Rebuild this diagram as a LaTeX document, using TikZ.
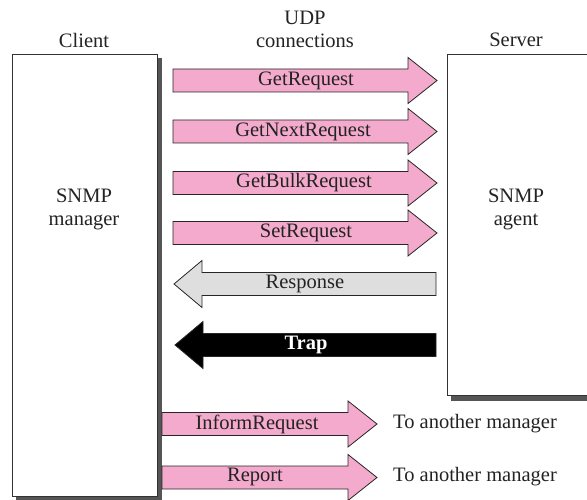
\documentclass[tikz,border=0pt]{standalone}
\usepackage{fontspec}
\setmainfont{Liberation Serif}
\definecolor{pinkfill}{RGB}{244,170,204}
\definecolor{grayfill}{RGB}{222,222,222}
\definecolor{shadowgray}{RGB}{85,85,85}
\definecolor{textgray}{RGB}{35,35,35}
\tikzset{
  lbl/.style={font=\fontsize{20.5}{23}\selectfont, text=textgray, inner sep=0pt, anchor=center},
  boxstyle/.style={draw=black!80, line width=0.8pt, fill=white},
  arrowline/.style={draw=black!85, line width=0.8pt, line join=miter}
}
% right arrow: #1 left x, #2 tip x, #3 centre y, #4 fill
\newcommand{\myrarrow}[4]{%
  \path[arrowline, fill=#4] (#1,#3-11.5) -- (#2-29,#3-11.5) -- (#2-29,#3-23) -- (#2,#3)
    -- (#2-29,#3+23) -- (#2-29,#3+11.5) -- (#1,#3+11.5) -- cycle;}
% left arrow: #1 tip x, #2 right x, #3 centre y, #4 fill
\newcommand{\mylarrow}[4]{%
  \path[arrowline, fill=#4] (#2,#3-11.5) -- (#1+28,#3-11.5) -- (#1+28,#3-23.5) -- (#1,#3)
    -- (#1+28,#3+23.5) -- (#1+28,#3+11.5) -- (#2,#3+11.5) -- cycle;}
\begin{document}
\begin{tikzpicture}[x=1pt,y=-1pt]
\useasboundingbox (0,0) rectangle (587,500);
\clip (0,0) rectangle (587,500);
% client box
\fill[shadowgray] (16,58) rectangle (162,500);
\draw[boxstyle] (12,54) rectangle (157,496);
% server box
\fill[shadowgray] (451,58) rectangle (600,401);
\draw[boxstyle] (447,54) rectangle (595,395);
% titles
\node[lbl] (client) at (84,40) {Client};
\node[lbl] (udp) at (305,18) {UDP};
\node[lbl] (conn) at (305,41) {connections};
\node[lbl] (server) at (516,40) {Server};
\node[lbl, align=center] (mgr) at (84,209) {SNMP\\manager};
\node[lbl, align=center] (agent) at (516,209) {SNMP\\agent};
% request arrows
\myrarrow{173}{437}{80.5}{pinkfill}
\node[lbl] (getreq) at (306,81) {GetRequest};
\myrarrow{173}{437}{131.5}{pinkfill}
\node[lbl] (getnext) at (303,132) {GetNextRequest};
\myrarrow{173}{437}{183}{pinkfill}
\node[lbl] (getbulk) at (304,183) {GetBulkRequest};
\myrarrow{173}{437}{233}{pinkfill}
\node[lbl] (setreq) at (306,233) {SetRequest};
% response
\mylarrow{174}{436}{284}{grayfill}
\node[lbl] (resp) at (305,284) {Response};
% trap
\mylarrow{175}{436}{345}{black}
\node[lbl, text=white, font=\fontsize{20.5}{23}\selectfont\bfseries] (trap) at (306,345) {Trap};
% inform / report
\myrarrow{162}{377}{424}{pinkfill}
\node[lbl] (inform) at (257,424) {InformRequest};
\myrarrow{162}{377}{477.5}{pinkfill}
\node[lbl] (report) at (255,477) {Report};
\node[lbl, anchor=west] (to1) at (393,424) {To another manager};
\node[lbl, anchor=west] (to2) at (393,477) {To another manager};
\end{tikzpicture}
\end{document}
